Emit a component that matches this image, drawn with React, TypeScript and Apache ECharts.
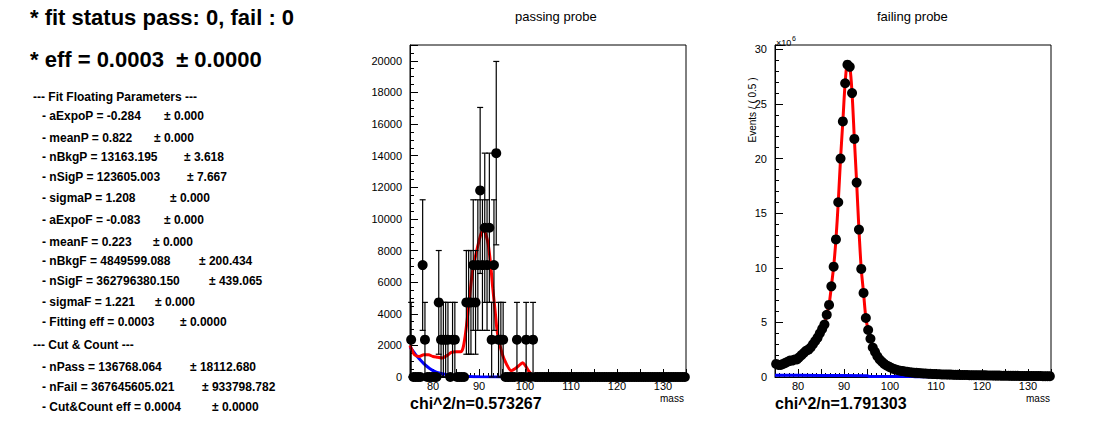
import React, { useEffect, useRef } from "react";
import * as echarts from "echarts";

// bin centres, 0.5 wide, 75..135
const binCentres: number[] = [];
for (let i = 0; i < 120; i++) binCentres.push(75.25 + i * 0.5);

// passing probe: non-zero bins [mass, count, errLow, errHigh]
const passNonZero: [number, number, number, number][] = [
  [75.25, 2360, 2360, 2360],
  [77.75, 7080, 4130, 4130],
  [78.25, 2360, 2360, 2360],
  [81.25, 4720, 3280, 3280],
  [81.75, 2360, 2360, 2360],
  [82.25, 2360, 2360, 2360],
  [82.75, 2360, 2360, 2360],
  [83.25, 2360, 2360, 2360],
  [84.25, 2360, 2360, 2360],
  [84.75, 2360, 2360, 2360],
  [87.25, 4720, 3280, 3280],
  [87.75, 4720, 3280, 3280],
  [88.25, 4720, 3280, 3280],
  [88.75, 7080, 4130, 4130],
  [89.25, 4720, 3280, 3280],
  [89.75, 7080, 4130, 4130],
  [90.25, 11800, 5250, 5250],
  [90.75, 7080, 4130, 4130],
  [91.25, 9440, 4720, 4720],
  [91.75, 7080, 4130, 4130],
  [92.25, 9440, 4720, 4720],
  [92.75, 2360, 2360, 2360],
  [93.25, 7080, 4130, 4130],
  [93.75, 14160, 5800, 5800],
  [94.25, 2360, 2360, 2360],
  [94.75, 2360, 2360, 2360],
  [95.25, 2360, 2360, 2360],
  [98.25, 2360, 2360, 2360],
  [100.25, 2360, 2360, 2360],
  [101.75, 2360, 2360, 2360],
];
const passFitMass = [75, 76, 77, 78, 79, 80, 81, 82, 83, 84, 85, 86, 86.5, 87, 87.5, 88, 88.5, 89, 89.5, 90, 90.5, 91, 91.5, 92, 92.5, 93, 93.5, 94, 95, 96, 97, 98, 99, 99.5, 100, 101, 102, 135];
const passFitVal = [2000, 1400, 1300, 1400, 1400, 1300, 1250, 1200, 1350, 1550, 1600, 1600, 1800, 2600, 3800, 5200, 6500, 7300, 8000, 8600, 9100, 9300, 9000, 8400, 7200, 5600, 4200, 2800, 1500, 800, 400, 550, 800, 900, 750, 300, 0, 0];
const passBkgMass = [75, 76, 77, 78, 79, 80, 81, 82, 84, 86, 88, 90, 95];
const passBkgVal = [1900, 1500, 1150, 850, 600, 400, 280, 200, 110, 60, 30, 15, 0];

// failing probe, in units of 1e6
const failCounts = [
  1.2, 1.1, 1.1, 1.2, 1.3, 1.4, 1.5, 1.5, 1.6, 1.6, 1.8, 2.0, 2.2, 2.4, 2.5, 2.7, 3.0, 3.3, 3.6, 4.0,
  4.4, 4.8, 5.7, 6.6, 8.3, 10.1, 12.6, 16.0, 20.0, 23.4, 26.9, 28.6, 28.4, 26.0, 21.8, 17.8, 13.5, 9.9, 7.7, 5.4,
  4.3, 3.5, 2.7, 2.3, 1.9, 1.6, 1.4, 1.2, 1.05, 0.95, 0.85, 0.75, 0.68, 0.62, 0.58, 0.54, 0.5, 0.47, 0.44, 0.42,
  0.4, 0.38, 0.36, 0.35, 0.33, 0.32, 0.3, 0.29, 0.28, 0.27, 0.26, 0.25, 0.24, 0.24, 0.23, 0.22, 0.22, 0.21, 0.2, 0.2,
  0.19, 0.19, 0.18, 0.18, 0.17, 0.17, 0.17, 0.16, 0.16, 0.15, 0.15, 0.15, 0.14, 0.14, 0.14, 0.13, 0.13, 0.13, 0.12, 0.12,
  0.12, 0.12, 0.11, 0.11, 0.11, 0.11, 0.1, 0.1, 0.1, 0.1, 0.1, 0.09, 0.09, 0.09, 0.09, 0.09, 0.08, 0.08, 0.08, 0.08,
];
const failBkgMass = [75, 80, 85, 90, 95, 95.5, 100, 105, 105.5, 135];
const failBkgVal = [0.15, 0.15, 0.14, 0.13, 0.12, 0.05, 0.05, 0.04, 0, 0];

const headerLines = ["* fit status pass: 0, fail : 0", "* eff = 0.0003  \u00b1 0.0000"];
// [label, value-part x offset text, ±-part, indent, centre y]
const paramLines: [string, string, number, number][] = [
  ["--- Fit Floating Parameters ---", "", 33, 98],
  ["- aExpoP = -0.284", "\u00b1 0.000", 42, 117],
  ["- meanP = 0.822", "\u00b1 0.000", 42, 139],
  ["- nBkgP = 13163.195", "\u00b1 3.618", 42, 158],
  ["- nSigP = 123605.003", "\u00b1 7.667", 42, 178],
  ["- sigmaP = 1.208", "\u00b1 0.000", 42, 199],
  ["- aExpoF = -0.083", "\u00b1 0.000", 42, 221],
  ["- meanF = 0.223", "\u00b1 0.000", 42, 243],
  ["- nBkgF = 4849599.088", "\u00b1 200.434", 42, 262],
  ["- nSigF = 362796380.150", "\u00b1 439.065", 42, 282],
  ["- sigmaF = 1.221", "\u00b1 0.000", 42, 303],
  ["- Fitting eff = 0.0003", "\u00b1 0.0000", 42, 323],
  ["--- Cut & Count ---", "", 33, 346],
  ["- nPass = 136768.064", "\u00b1 18112.680", 42, 368],
  ["- nFail = 367645605.021", "\u00b1 933798.782", 42, 388],
  ["- Cut&Count eff = 0.0004", "\u00b1 0.0000", 42, 408],
];
// x of the ± column, per line
const plusMinusX = [0, 164, 154, 184, 187, 170, 164, 153, 199, 209, 155, 180, 0, 190, 202, 212];

const FONT = "Liberation Sans, Arial, sans-serif";

const App: React.FC = () => {
  const ref = useRef<HTMLDivElement>(null);

  useEffect(() => {
    if (!ref.current) return;
    const chart = echarts.init(ref.current, null, { renderer: "svg" });

    const passMap = new Map(passNonZero.map((p) => [p[0], p[1]]));
    const passPoints = binCentres.map((m) => [m, passMap.get(m) ?? 0]);
    const failPoints = binCentres.map((m, i) => [m, failCounts[i]]);

    const xAxisCommon = (gi: number) => ({
      type: "value" as const,
      gridIndex: gi,
      min: 75,
      max: 135,
      interval: 5,
      axisLine: { lineStyle: { color: "#000" } },
      axisTick: { inside: true, length: 8, lineStyle: { color: "#000" } },
      minorTick: { show: true, splitNumber: 5, length: 4, lineStyle: { color: "#000" } },
      axisLabel: {
        color: "#000",
        fontFamily: FONT,
        fontSize: 11,
        margin: 3,
        formatter: (v: number) => (v % 10 === 0 ? String(v) : ""),
      },
      splitLine: { show: false },
    });

    const yAxisCommon = (gi: number, max: number, interval: number, minor: number) => ({
      type: "value" as const,
      gridIndex: gi,
      min: 0,
      max,
      interval,
      axisLine: { show: true, lineStyle: { color: "#000" } },
      axisTick: { inside: true, length: 8, lineStyle: { color: "#000" } },
      minorTick: { show: true, splitNumber: minor, length: 4, lineStyle: { color: "#000" } },
      axisLabel: {
        color: "#000",
        fontFamily: FONT,
        fontSize: 11,
        showMaxLabel: false,
        formatter: (v: number) => String(v),
      },
      splitLine: { show: false },
    });

    const errBars = {
      type: "custom" as const,
      xAxisIndex: 0,
      yAxisIndex: 0,
      data: passNonZero.map((p) => [p[0], p[1] - p[2], p[1] + p[3]]),
      renderItem: (params: any, api: any) => {
        const lo = api.coord([api.value(0), api.value(1)]);
        const hi = api.coord([api.value(0), api.value(2)]);
        const s = { stroke: "#000", lineWidth: 1.2 };
        return {
          type: "group",
          children: [
            { type: "line", shape: { x1: lo[0], y1: lo[1], x2: hi[0], y2: hi[1] }, style: s },
            { type: "line", shape: { x1: hi[0] - 3, y1: hi[1], x2: hi[0] + 3, y2: hi[1] }, style: s },
            { type: "line", shape: { x1: lo[0] - 3, y1: lo[1], x2: lo[0] + 3, y2: lo[1] }, style: s },
          ],
        };
      },
      z: 3,
    };

    const txt = (left: number, top: number, text: string, fontSize: number, bold = false) => ({
      type: "text",
      left,
      top,
      style: { text, fontSize, fontWeight: bold ? "bold" : "normal", fontFamily: FONT, fill: "#000" },
    });

    const graphic: any[] = [
      txt(30, 6, headerLines[0], 22, true),
      txt(30, 48, headerLines[1], 22, true),
    ];
    paramLines.forEach((l, i) => {
      graphic.push(txt(l[2], l[3] - 7, l[0], 12, true));
      if (l[1]) graphic.push(txt(plusMinusX[i], l[3] - 7, l[1], 12, true));
    });
    graphic.push(
      txt(515, 10, "passing probe", 13),
      txt(877, 10, "failing probe", 13),
      txt(410, 395, "chi^2/n=0.573267", 16, true),
      txt(775, 395, "chi^2/n=1.791303", 16, true),
      txt(660, 393, "mass", 10),
      txt(1026, 393, "mass", 10),
      txt(776, 38, "\u00d710", 9),
      txt(792, 35, "6", 7),
      {
        type: "text",
        x: 752,
        y: 110,
        rotation: Math.PI / 2,
        style: { text: "Events / ( 0.5 )", fontSize: 10, fontFamily: FONT, fill: "#000", align: "center", verticalAlign: "middle" },
      }
    );

    chart.setOption({
      animation: false,
      backgroundColor: "#fff",
      graphic,
      grid: [
        { left: 410, top: 45, width: 276, height: 332, show: true, borderColor: "#000", borderWidth: 1, backgroundColor: "transparent" },
        { left: 775, top: 45, width: 276, height: 332, show: true, borderColor: "#000", borderWidth: 1, backgroundColor: "transparent" },
      ],
      xAxis: [xAxisCommon(0), xAxisCommon(1)],
      yAxis: [yAxisCommon(0, 21000, 2000, 4), yAxisCommon(1, 30.4, 5, 5)],
      series: [
        {
          type: "line",
          xAxisIndex: 0,
          yAxisIndex: 0,
          data: passBkgMass.map((m, i) => [m, passBkgVal[i]]),
          showSymbol: false,
          smooth: true,
          lineStyle: { color: "#0000ff", width: 3 },
          z: 2,
        },
        {
          type: "line",
          xAxisIndex: 0,
          yAxisIndex: 0,
          data: passFitMass.map((m, i) => [m, passFitVal[i]]),
          showSymbol: false,
          smooth: 0.3,
          lineStyle: { color: "#ff0000", width: 3 },
          z: 2,
        },
        errBars,
        {
          type: "scatter",
          xAxisIndex: 0,
          yAxisIndex: 0,
          data: passPoints,
          symbolSize: 10,
          itemStyle: { color: "#000", opacity: 1 },
          z: 4,
        },
        {
          type: "line",
          xAxisIndex: 1,
          yAxisIndex: 1,
          data: failBkgMass.map((m, i) => [m, failBkgVal[i]]),
          showSymbol: false,
          lineStyle: { color: "#0000ff", width: 3 },
          z: 2,
        },
        {
          type: "line",
          xAxisIndex: 1,
          yAxisIndex: 1,
          data: failPoints,
          showSymbol: false,
          smooth: 0.3,
          lineStyle: { color: "#ff0000", width: 3 },
          z: 2,
        },
        {
          type: "scatter",
          xAxisIndex: 1,
          yAxisIndex: 1,
          data: failPoints,
          symbolSize: 10,
          itemStyle: { color: "#000", opacity: 1 },
          z: 4,
        },
      ],
    });

    return () => {
      chart.dispose();
    };
  }, []);

  return (
    <div
      ref={ref}
      style={{ position: "fixed", left: 0, top: 0, width: 1096, height: 422 }}
    />
  );
};

export default App;
